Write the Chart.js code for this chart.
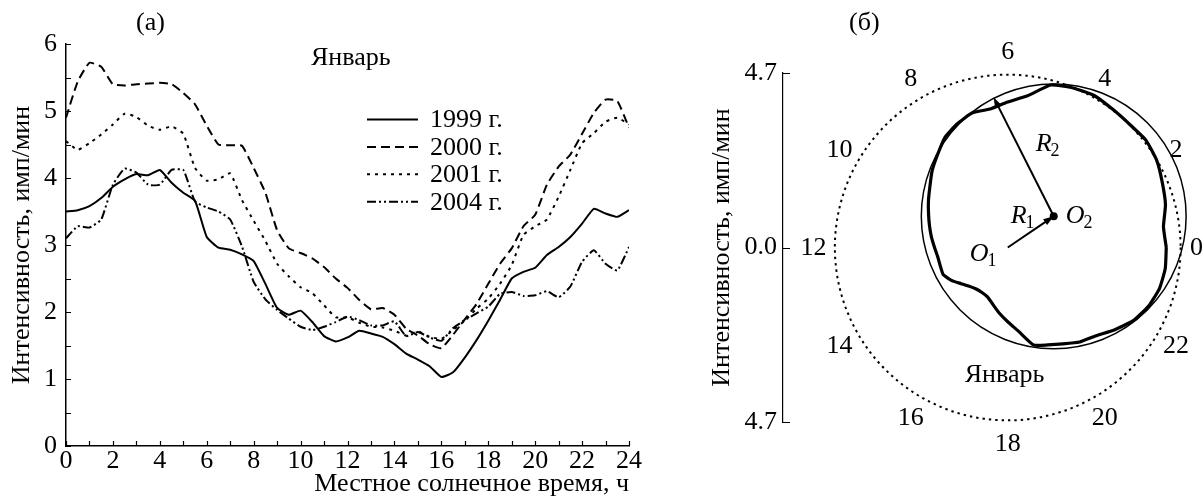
<!DOCTYPE html>
<html>
<head>
<meta charset="utf-8">
<script src="https://cdn.jsdelivr.net/npm/chart.js@4.4.1/dist/chart.umd.min.js"></script>
<style>
  html, body { margin: 0; padding: 0; background: #fff; }
  #wrap { position: relative; width: 1203px; height: 503px; overflow: hidden; }
  #diurnal { position: absolute; left: 0; top: 0; }
  #polar { position: absolute; left: 640px; top: 0; }
</style>
</head>
<body>
<div id="wrap">
  <canvas id="diurnal" width="650" height="503"></canvas>
  <canvas id="polar" width="563" height="503"></canvas>
</div>
<script>
// --- Panel (а): January diurnal intensity, half-hour steps ---
const HOURS = [0, 0.5, 1, 1.5, 2, 2.5, 3, 3.5, 4, 4.5, 5, 5.5, 6, 6.5, 7, 7.5, 8, 8.5, 9, 9.5,
  10, 10.5, 11, 11.5, 12, 12.5, 13, 13.5, 14, 14.5, 15, 15.5, 16, 16.5, 17, 17.5, 18, 18.5, 19, 19.5,
  20, 20.5, 21, 21.5, 22, 22.5, 23, 23.5, 24];

const I_1999 = [3.50, 3.52, 3.58, 3.70, 3.87, 3.98, 4.06, 4.04, 4.12, 3.93, 3.78, 3.66, 3.12, 2.96, 2.93, 2.86, 2.76, 2.42, 2.06, 1.96,
  2.02, 1.85, 1.64, 1.56, 1.62, 1.72, 1.68, 1.63, 1.52, 1.38, 1.29, 1.19, 1.03, 1.10, 1.32, 1.58, 1.87, 2.18, 2.50, 2.60,
  2.66, 2.85, 2.97, 3.12, 3.32, 3.54, 3.47, 3.42, 3.52];
const I_2000 = [4.90, 5.44, 5.72, 5.66, 5.40, 5.38, 5.40, 5.41, 5.42, 5.40, 5.27, 5.10, 4.78, 4.50, 4.49, 4.48, 4.15, 3.78, 3.22, 2.95,
  2.88, 2.80, 2.67, 2.50, 2.36, 2.18, 2.04, 2.06, 1.96, 1.75, 1.65, 1.52, 1.46, 1.66, 1.89, 2.12, 2.42, 2.72, 2.95, 3.28,
  3.45, 3.90, 4.17, 4.35, 4.66, 4.97, 5.17, 5.15, 4.75];
const I_2001 = [4.55, 4.42, 4.52, 4.65, 4.80, 4.96, 4.91, 4.78, 4.72, 4.77, 4.66, 4.15, 3.96, 3.98, 4.07, 3.67, 3.36, 3.06, 2.72, 2.53,
  2.37, 2.28, 2.10, 1.92, 1.92, 1.84, 1.78, 1.77, 1.72, 1.65, 1.71, 1.63, 1.60, 1.73, 1.87, 2.05, 2.20, 2.42, 2.70, 3.15,
  3.28, 3.38, 3.72, 4.12, 4.52, 4.67, 4.84, 4.90, 4.80];
const I_2004 = [3.10, 3.28, 3.26, 3.38, 3.90, 4.14, 4.08, 3.90, 3.90, 4.12, 4.12, 3.65, 3.56, 3.50, 3.38, 2.98, 2.45, 2.19, 2.03, 1.90,
  1.78, 1.73, 1.78, 1.85, 1.93, 1.88, 1.80, 1.80, 1.86, 1.64, 1.70, 1.62, 1.57, 1.76, 1.88, 1.98, 2.08, 2.27, 2.30, 2.24,
  2.25, 2.31, 2.22, 2.38, 2.75, 2.92, 2.72, 2.62, 2.97];

const SERIES_LABELS = ["1999 г.", "2000 г.", "2001 г.", "2004 г."];

// --- Panel (б): same month in polar form, radius vs. local hour ---
const POLAR_HOURS = HOURS.slice(0, -1);
const POLAR_R = [4.31, 4.27, 4.44, 4.55, 4.68, 4.74, 4.69, 4.69, 4.72, 4.65, 4.53, 4.12, 3.92, 3.76, 3.75, 3.60, 3.42, 3.14, 2.91, 2.67,
  2.49, 2.33, 2.20, 2.09, 1.99, 1.92, 1.90, 1.90, 1.77, 1.60, 1.48, 1.41, 1.40, 1.44, 1.58, 1.78, 2.00, 2.28, 2.72, 2.84,
  3.00, 3.21, 3.37, 3.65, 3.94, 4.14, 4.27, 4.32];
const HOUR_LABELS = [0, 2, 4, 6, 8, 10, 12, 14, 16, 18, 20, 22];
const REF_RADIUS = 4.7;          // dotted reference circle
const O2 = [1.25, 0.84];         // centre of the fitted circle (end of R1)
const R2 = 3.6;                  // radius of the fitted circle
const R2_ARROW_HOUR = 7.8;       // direction in which R2 is drawn
const POLAR_TICKS = [-4.7, 0, 4.7];

const SERIF = "'Liberation Serif', 'DejaVu Serif', serif";
const FONT = { family: SERIF, size: 26 };

const toRad = (h) => (h * Math.PI) / 12;

// --- shared helpers ---
function inwardTicks(chart, xValues, yValues, len) {
  const { ctx, chartArea } = chart;
  const xs = chart.scales.x;
  const ys = chart.scales.y;
  ctx.save();
  ctx.strokeStyle = "#000";
  ctx.lineWidth = 1.2;
  ctx.beginPath();
  for (const v of xValues) {
    const px = Math.round(xs.getPixelForValue(v)) + 0.5;
    ctx.moveTo(px, chartArea.bottom);
    ctx.lineTo(px, chartArea.bottom - len);
  }
  for (const v of yValues) {
    const py = Math.round(ys.getPixelForValue(v)) + 0.5;
    ctx.moveTo(chartArea.left, py);
    ctx.lineTo(chartArea.left + len, py);
  }
  ctx.stroke();
  ctx.restore();
}

function arrow(ctx, x0, y0, x1, y1, head) {
  const a = Math.atan2(y1 - y0, x1 - x0);
  ctx.beginPath();
  ctx.moveTo(x0, y0);
  ctx.lineTo(x1 - Math.cos(a) * head * 0.7, y1 - Math.sin(a) * head * 0.7);
  ctx.stroke();
  ctx.beginPath();
  ctx.moveTo(x1, y1);
  ctx.lineTo(x1 - head * Math.cos(a - 0.33), y1 - head * Math.sin(a - 0.33));
  ctx.lineTo(x1 - head * Math.cos(a + 0.33), y1 - head * Math.sin(a + 0.33));
  ctx.closePath();
  ctx.fill();
}

function symbol(ctx, main, sub, x, y) {
  ctx.font = `italic 26px ${SERIF}`;
  ctx.textAlign = "left";
  ctx.textBaseline = "alphabetic";
  ctx.fillText(main, x, y);
  const w = ctx.measureText(main).width;
  ctx.font = `18px ${SERIF}`;
  ctx.fillText(sub, x + w - 1, y + 5);
}

// --- Panel (а) ---
const diurnalDecor = {
  id: "diurnalDecor",
  afterDraw(chart) {
    const { ctx } = chart;
    const hourTicks = Array.from({ length: 25 }, (_, i) => i);
    const valueTicks = Array.from({ length: 13 }, (_, i) => i * 0.5);
    inwardTicks(chart, hourTicks, valueTicks, 5);

    ctx.save();
    ctx.fillStyle = "#000";
    ctx.strokeStyle = "#000";
    ctx.font = `26px ${SERIF}`;
    ctx.textBaseline = "alphabetic";
    ctx.textAlign = "left";
    ctx.fillText("(а)", 136, 30);
    ctx.fillText("Январь", 311, 65);

    // legend
    chart.data.datasets.forEach((ds, i) => {
      const y = 119.5 + i * 27.4;
      ctx.lineWidth = 2;
      ctx.setLineDash(ds.borderDash || []);
      ctx.beginPath();
      ctx.moveTo(367, y);
      ctx.lineTo(418, y);
      ctx.stroke();
      ctx.setLineDash([]);
      ctx.textBaseline = "middle";
      ctx.fillText(ds.label, 430, y + 1);
    });
    ctx.restore();
  },
};

function series(label, values, dash) {
  return {
    label,
    data: HOURS.map((h, i) => ({ x: h, y: values[i] })),
    borderColor: "#000",
    borderWidth: 2,
    borderDash: dash,
    pointRadius: 0,
    tension: 0.15,
    fill: false,
  };
}

new Chart(document.getElementById("diurnal"), {
  type: "line",
  data: {
    datasets: [
      series(SERIES_LABELS[0], I_1999, []),
      series(SERIES_LABELS[1], I_2000, [9, 5]),
      series(SERIES_LABELS[2], I_2001, [3, 5]),
      series(SERIES_LABELS[3], I_2004, [9, 3, 2, 3, 2, 3]),
    ],
  },
  options: {
    responsive: false,
    animation: false,
    devicePixelRatio: 1,
    layout: { padding: { top: 44, right: 21, left: 0, bottom: 0 } },
    plugins: { legend: { display: false }, tooltip: { enabled: false } },
    scales: {
      x: {
        type: "linear",
        min: 0,
        max: 24,
        ticks: { stepSize: 2, autoSkip: false, maxRotation: 0, font: FONT, color: "#000", padding: 0 },
        grid: { display: false, drawTicks: false },
        border: { display: true, color: "#000", width: 1.5 },
        title: {
          display: true,
          text: "Местное солнечное время, ч",
          align: "end",
          font: FONT,
          color: "#000",
          padding: { top: 0, bottom: 3 },
        },
        afterFit(scale) { scale.height = 57; },
      },
      y: {
        min: 0,
        max: 6,
        ticks: { stepSize: 1, font: FONT, color: "#000", padding: 9 },
        grid: { display: false, drawTicks: false },
        border: { display: true, color: "#000", width: 1.5 },
        title: {
          display: true,
          text: "Интенсивность, имп/мин",
          font: FONT,
          color: "#000",
          padding: { top: 7, bottom: 0 },
        },
        afterFit(scale) { scale.width = 66; },
      },
    },
  },
  plugins: [diurnalDecor],
});

// --- Panel (б) ---
const polarDecor = {
  id: "polarDecor",
  beforeDatasetsDraw(chart) {
    const { ctx } = chart;
    const xs = chart.scales.x;
    const ys = chart.scales.y;
    const unit = xs.getPixelForValue(1) - xs.getPixelForValue(0);
    ctx.save();
    ctx.strokeStyle = "#000";
    ctx.setLineDash([2.4, 4]);
    ctx.lineWidth = 2;
    ctx.beginPath();
    ctx.arc(xs.getPixelForValue(0), ys.getPixelForValue(0), REF_RADIUS * unit, 0, Math.PI * 2);
    ctx.stroke();
    ctx.setLineDash([]);
    ctx.lineWidth = 1.5;
    ctx.beginPath();
    ctx.arc(xs.getPixelForValue(O2[0]), ys.getPixelForValue(O2[1]), R2 * unit, 0, Math.PI * 2);
    ctx.stroke();
    ctx.restore();
  },
  afterDraw(chart) {
    const { ctx } = chart;
    const xs = chart.scales.x;
    const ys = chart.scales.y;
    const px = (v) => xs.getPixelForValue(v);
    const py = (v) => ys.getPixelForValue(v);
    inwardTicks(chart, [], POLAR_TICKS, 7);

    ctx.save();
    ctx.fillStyle = "#000";
    ctx.strokeStyle = "#000";

    // R1: O1 -> O2, R2: O2 -> fitted circle
    ctx.lineWidth = 2;
    arrow(ctx, px(0), py(0), px(O2[0]), py(O2[1]), 11);
    const a = toRad(R2_ARROW_HOUR);
    arrow(ctx, px(O2[0]), py(O2[1]), px(O2[0] + R2 * Math.cos(a)), py(O2[1] + R2 * Math.sin(a)), 11);

    // local-time labels round the reference circle
    ctx.font = `26px ${SERIF}`;
    ctx.textAlign = "center";
    ctx.textBaseline = "middle";
    for (const h of HOUR_LABELS) {
      const r = 5.28;
      const text = String(h);
      const half = ctx.measureText(text).width / 2;
      const x = Math.min(px(r * Math.cos(toRad(h))), chart.width - half);
      ctx.fillText(text, x, py(r * Math.sin(toRad(h))) + 1);
    }

    ctx.textAlign = "left";
    ctx.textBaseline = "alphabetic";
    const ox = px(0);
    const oy = py(0);
    ctx.fillText("Январь", ox - 43, oy + 134);
    ctx.fillText("(б)", 209, 30);

    symbol(ctx, "O", "1", ox - 38, oy + 13);
    symbol(ctx, "R", "1", ox + 3, oy - 25);
    symbol(ctx, "R", "2", ox + 28, oy - 97);
    symbol(ctx, "O", "2", ox + 58, oy - 25);
    ctx.restore();
  },
};

const polarPoints = POLAR_HOURS.map((h, i) => ({
  x: POLAR_R[i] * Math.cos(toRad(h)),
  y: POLAR_R[i] * Math.sin(toRad(h)),
}));
polarPoints.push(polarPoints[0]);

new Chart(document.getElementById("polar"), {
  type: "scatter",
  data: {
    datasets: [
      {
        label: "Январь",
        data: polarPoints,
        showLine: true,
        borderColor: "#000",
        borderWidth: 3.2,
        pointRadius: 0,
        tension: 0.15,
        clip: false,
      },
      {
        label: "O2",
        data: [{ x: O2[0], y: O2[1] }],
        pointRadius: 4,
        backgroundColor: "#000",
        borderWidth: 0,
      },
    ],
  },
  options: {
    responsive: false,
    animation: false,
    devicePixelRatio: 1,
    layout: { padding: { top: 73, bottom: 81, left: 60, right: 0 } },
    plugins: { legend: { display: false }, tooltip: { enabled: false } },
    scales: {
      x: { type: "linear", display: false, min: -6.11, max: 5.2 },
      y: {
        type: "linear",
        min: -4.7,
        max: 4.7,
        afterBuildTicks(scale) { scale.ticks = POLAR_TICKS.map((v) => ({ value: v })); },
        ticks: { callback: (v) => Math.abs(v).toFixed(1), font: FONT, color: "#000", padding: 6 },
        grid: { display: false, drawTicks: false },
        border: { display: true, color: "#000", width: 1.2 },
        title: {
          display: true,
          text: "Интенсивность, имп/мин",
          font: FONT,
          color: "#000",
          padding: { top: 7, bottom: 0 },
        },
        afterFit(scale) { scale.width = 83; },
      },
    },
  },
  plugins: [polarDecor],
});
</script>
</body>
</html>
